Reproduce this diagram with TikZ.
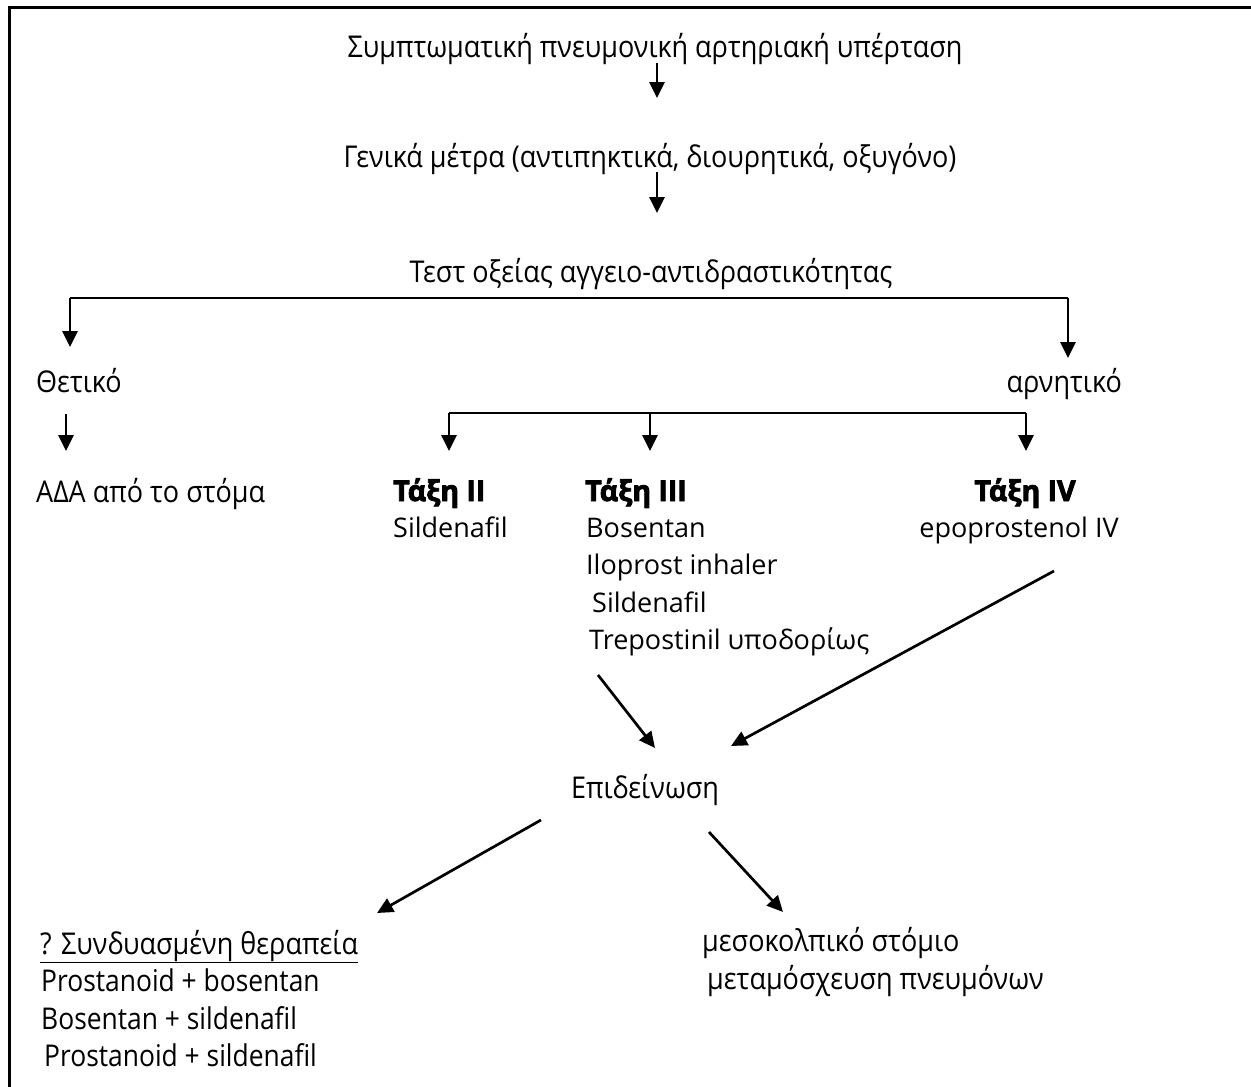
\documentclass[tikz,border=0pt]{standalone}
\usepackage{fontspec}
\setmainfont{Open Sans}
\newfontfamily\gkf[FakeStretch=0.9]{Open Sans}
\newfontfamily\cnf[FakeStretch=0.88]{Open Sans}
\newfontfamily\blkf[FakeBold=3]{Open Sans}
\usetikzlibrary{arrows.meta}
\begin{document}
\begin{tikzpicture}[x=1pt,y=-1pt,
  arr/.style={line width=2.7pt,-{Triangle[length=16pt,width=15pt]}},
  ln/.style={line width=2.7pt},
  gt/.style={inner sep=0pt,font=\gkf\fontsize{30}{36}\selectfont},
  lt/.style={inner sep=0pt,font=\fontsize{27}{32}\selectfont},
  bt/.style={inner sep=0pt,font=\blkf\bfseries\fontsize{28.5}{34}\selectfont},
  ct/.style={inner sep=0pt,font=\cnf\fontsize{30}{36}\selectfont}]
\useasboundingbox (0,0) rectangle (1251,1087);
% frame (left and top edges)
\draw[line width=3pt] (9.5,1087) -- (9.5,7.5) -- (1251,7.5);
% texts
\node[gt,anchor=base] (title) at (655,57) {Συμπτωματική πνευμονική αρτηριακή υπέρταση};
\node[gt,anchor=base] (gen) at (650,167) {Γενικά μέτρα (αντιπηκτικά, διουρητικά, οξυγόνο)};
\node[gt,anchor=base] (test) at (651,282) {Τεστ οξείας αγγειο-αντιδραστικότητας};
\node[gt,anchor=base west] (pos) at (36,392) {Θετικό};
\node[gt,anchor=base east] (neg) at (1122,392) {αρνητικό};
\node[gt,anchor=base west] (ada) at (36,502) {ΑΔΑ από το στόμα};
\node[bt,anchor=base west] (c2) at (393,501) {Τάξη II};
\node[lt,anchor=base west] (c2a) at (393,537) {Sildenafil};
\node[bt,anchor=base west] (c3) at (585,501) {Τάξη III};
\node[lt,anchor=base west] (c3a) at (586,537) {Bosentan};
\node[lt,anchor=base west] (c3b) at (586,574) {Iloprost inhaler};
\node[lt,anchor=base west] (c3c) at (592,612) {Sildenafil};
\node[lt,anchor=base west] (c3d) at (589,649) {Trepostinil υποδορίως};
\node[bt,anchor=base] (c4) at (1025,501) {Τάξη IV};
\node[lt,anchor=base] (c4a) at (1019,537) {epoprostenol IV};
\node[gt,anchor=base] (epi) at (645,798) {Επιδείνωση};
\node[gt,anchor=base west] (comb) at (40,954) {\underline{? Συνδυασμένη θεραπεία}};
\node[ct,anchor=base west] (cb1) at (41,991) {Prostanoid + bosentan};
\node[ct,anchor=base west] (cb2) at (41,1029) {Bosentan + sildenafil};
\node[ct,anchor=base west] (cb3) at (44,1066) {Prostanoid + sildenafil};
\node[gt,anchor=base west] (mes) at (702,951) {μεσοκολπικό στόμιο};
\node[gt,anchor=base west] (met) at (707,989) {μεταμόσχευση πνευμόνων};
% connector points
\coordinate (t1) at (657,63);  \coordinate (h1) at (657,98);
\coordinate (t2) at (657,172); \coordinate (h2) at (657,213);
\coordinate (bl) at (70,298);  \coordinate (br) at (1068,298);
\coordinate (hl) at (70,347);  \coordinate (hr) at (1068,358);
\coordinate (t3) at (66,414);  \coordinate (h3) at (66,451);
\coordinate (b2l) at (449,413); \coordinate (b2m) at (650,413); \coordinate (b2r) at (1026,413);
\coordinate (h2l) at (449,451); \coordinate (h2m) at (650,451); \coordinate (h2r) at (1026,451);
\coordinate (d1s) at (598,675); \coordinate (d1e) at (655,748);
\coordinate (d2s) at (1054,571); \coordinate (d2e) at (731,746);
\coordinate (d3s) at (541,820); \coordinate (d3e) at (377,913);
\coordinate (d4s) at (709,832); \coordinate (d4e) at (783,912);
% connectors
\draw[arr] (t1) -- (h1);
\draw[arr] (t2) -- (h2);
\draw[ln] (bl) -- (br);
\draw[arr] (bl) -- (hl);
\draw[arr] (br) -- (hr);
\draw[arr] (t3) -- (h3);
\draw[ln] (b2l) -- (b2r);
\draw[arr] (b2l) -- (h2l);
\draw[arr] (b2m) -- (h2m);
\draw[arr] (b2r) -- (h2r);
\draw[arr] (d1s) -- (d1e);
\draw[arr] (d2s) -- (d2e);
\draw[arr] (d3s) -- (d3e);
\draw[arr] (d4s) -- (d4e);
\end{tikzpicture}
\end{document}
